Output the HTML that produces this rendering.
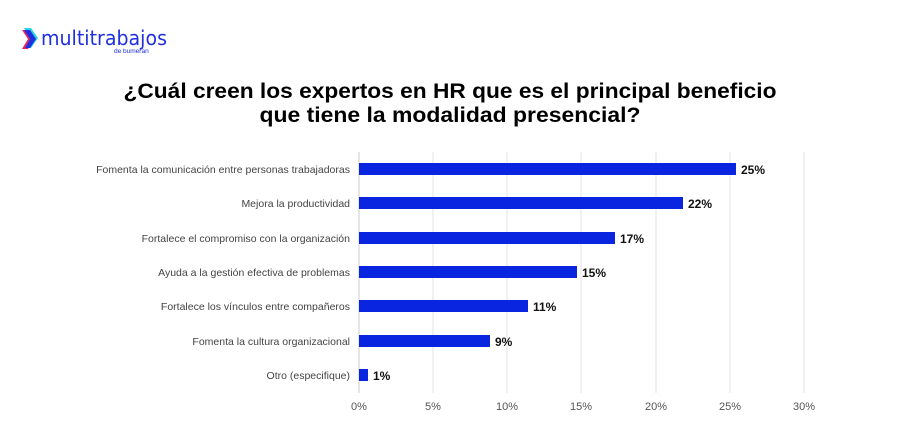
<!DOCTYPE html>
<html><head><meta charset="utf-8"><style>
body{margin:0;background:#fff;width:904px;height:438px;overflow:hidden;font-family:"Liberation Sans",Arial,sans-serif}
</style></head><body>
<svg width="904" height="438" xmlns="http://www.w3.org/2000/svg" font-family="Liberation Sans, Arial, sans-serif">
<polygon points="24,28 31,28 38,38 31,48 24,48 30,38" fill="#2ad4e0"/>
<polygon points="22,30 29,30 35,39 28,49 22,49 28,39" fill="#e8265e"/>
<polygon points="24,30 30,30 36,39 30,48 25,48 30,39" fill="#1f2fe0"/>
<text x="41" y="45" font-size="20" fill="#1f2fe0" font-family="DejaVu Sans, sans-serif" textLength="126" lengthAdjust="spacingAndGlyphs">multitrabajos</text>
<text x="114" y="53" font-size="6.5" fill="#1f2fe0">de bumeran</text>
<text x="450" y="98" text-anchor="middle" font-size="21" font-weight="bold" fill="#000" textLength="653" lengthAdjust="spacingAndGlyphs">¿Cuál creen los expertos en HR que es el principal beneficio</text>
<text x="450" y="122" text-anchor="middle" font-size="21" font-weight="bold" fill="#000" textLength="381" lengthAdjust="spacingAndGlyphs">que tiene la modalidad presencial?</text>
<g stroke="#e3e3e3" stroke-width="1">
<line x1="433" y1="152" x2="433" y2="393"/><line x1="507" y1="152" x2="507" y2="393"/><line x1="581" y1="152" x2="581" y2="393"/><line x1="656" y1="152" x2="656" y2="393"/><line x1="730" y1="152" x2="730" y2="393"/><line x1="804" y1="152" x2="804" y2="393"/>
</g>
<line x1="359" y1="152" x2="359" y2="393" stroke="#ccc"/>
<g fill="#0a25e0">
<rect x="359" y="163" width="377" height="12"/>
<rect x="359" y="197" width="324" height="12"/>
<rect x="359" y="232" width="256" height="12"/>
<rect x="359" y="266" width="218" height="12"/>
<rect x="359" y="300" width="169" height="12"/>
<rect x="359" y="335" width="131" height="12"/>
<rect x="359" y="369" width="9" height="12"/>
</g>
<g font-size="12" font-weight="bold" fill="#111">
<text x="741" y="174">25%</text><text x="688" y="208">22%</text><text x="620" y="243">17%</text><text x="582" y="277">15%</text><text x="533" y="311">11%</text><text x="495" y="346">9%</text><text x="373" y="380">1%</text>
</g>
<g font-size="10.5" fill="#444" text-anchor="end">
<text x="350" y="173">Fomenta la comunicación entre personas trabajadoras</text>
<text x="350" y="207">Mejora la productividad</text>
<text x="350" y="242">Fortalece el compromiso con la organización</text>
<text x="350" y="276">Ayuda a la gestión efectiva de problemas</text>
<text x="350" y="310">Fortalece los vínculos entre compañeros</text>
<text x="350" y="345">Fomenta la cultura organizacional</text>
<text x="350" y="379">Otro (especifique)</text>
</g>
<g font-size="11" fill="#555" text-anchor="middle">
<text x="359" y="410">0%</text><text x="433" y="410">5%</text><text x="507" y="410">10%</text><text x="581" y="410">15%</text><text x="656" y="410">20%</text><text x="730" y="410">25%</text><text x="804" y="410">30%</text>
</g>
</svg>
</body></html>
